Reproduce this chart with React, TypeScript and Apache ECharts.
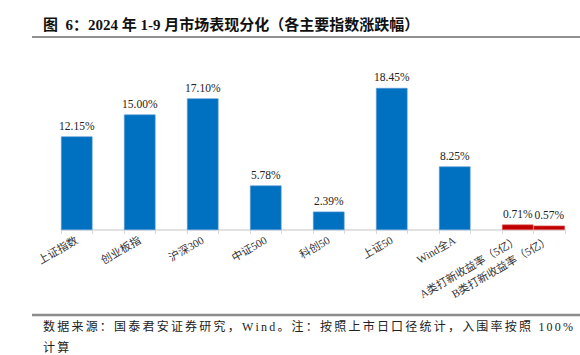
import React, { useEffect, useRef } from "react";
import * as echarts from "echarts";

const categories = [
  "上证指数",
  "创业板指",
  "沪深300",
  "中证500",
  "科创50",
  "上证50",
  "Wind全A",
  "A类打新收益率（5亿）",
  "B类打新收益率（5亿）",
];
const values = [12.15, 15.0, 17.1, 5.78, 2.39, 18.45, 8.25, 0.71, 0.57];
const isIpo = [false, false, false, false, false, false, false, true, true];

const titleText = "图  6：2024 年 1-9 月市场表现分化（各主要指数涨跌幅）";
const footLine1 = "数据来源：国泰君安证券研究，Wind。注：按照上市日口径统计，入围率按照 100%";
const footLine2 = "计算";

const FONT = "'Liberation Serif', 'Times New Roman', 'Noto Sans CJK SC', serif";
const BLUE = "#0070C0";
const RED = "#C00000";

// Build a justified rich-text string (uniform extra spacing per character)
function justified(text: string, font: string, targetWidth: number | null, spacing: number, prefix: string) {
  const canvas = document.createElement("canvas");
  const ctx = canvas.getContext("2d")!;
  ctx.font = font;
  const chars = Array.from(text);
  const widths = chars.map((c) => ctx.measureText(c).width);
  const total = widths.reduce((a, b) => a + b, 0);
  const sp = targetWidth != null ? (targetWidth - total) / (chars.length - 1) : spacing;
  const rich: any = {};
  let out = "";
  chars.forEach((c, i) => {
    const name = prefix + i;
    rich[name] = { width: widths[i] + (i < chars.length - 1 ? sp : 0), font, fill: "#222222" };
    out += `{${name}|${c}}`;
  });
  return { text: out, rich, sp };
}

export default function App() {
  const ref = useRef<HTMLDivElement>(null);
  useEffect(() => {
    if (!ref.current) return;
    const chart = echarts.init(ref.current, undefined, { renderer: "svg" });

    // Slot layout: index bars separated by an empty slot, IPO bars adjacent.
    const slotCount = 16;
    const slotIndex = (i: number) => (i < 7 ? i * 2 : 14 + (i - 7));
    const slotLabels: string[] = new Array(slotCount).fill("");
    const slotData: any[] = new Array(slotCount).fill("-");
    categories.forEach((c, i) => {
      const s = slotIndex(i);
      slotLabels[s] = c;
      slotData[s] = {
        value: values[i],
        itemStyle: {
          color: isIpo[i] ? RED : BLUE,
          borderColor: isIpo[i] ? "#e06666" : "#5b9bd5",
          borderWidth: 0.6,
        },
      };
    });

    const footFont = `12px ${FONT}`;
    const f1 = justified(footLine1, footFont, 530, 0, "a");
    const f2 = justified(footLine2, footFont, null, f1.sp, "b");

    chart.setOption({
      animation: false,
      backgroundColor: "#ffffff",
      grid: { left: 61, right: 15, top: 76, bottom: 125, containLabel: false },
      xAxis: {
        type: "category",
        data: slotLabels,
        boundaryGap: true,
        axisLine: { show: true, lineStyle: { color: "#d9d9d9", width: 1.5 } },
        axisTick: {
          show: true,
          interval: 0,
          length: 4,
          lineStyle: { color: "#d9d9d9" },
        },
        axisLabel: {
          interval: 0,
          rotate: 30,
          margin: 9,
          fontSize: 11,
          fontFamily: FONT,
          color: "#333333",
        },
      },
      yAxis: {
        type: "value",
        min: 0,
        max: 20,
        show: false,
        splitLine: { show: false },
      },
      series: [
        {
          type: "bar",
          data: slotData,
          barCategoryGap: "0%",
          barWidth: "100%",
          label: {
            show: true,
            position: "top",
            distance: 5,
            fontSize: 11.5,
            fontFamily: FONT,
            color: "#222222",
            formatter: (p: any) => Number(p.value).toFixed(2) + "%",
          },
        },
      ],
      graphic: [
        {
          type: "text",
          left: 43,
          top: 17,
          style: {
            text: titleText,
            font: `bold 15px ${FONT}`,
            fill: "#111111",
          },
        },
        {
          type: "line",
          shape: { x1: 32, y1: 37, x2: 580, y2: 37 },
          style: { stroke: "#222222", lineWidth: 1.2 },
        },
        {
          type: "line",
          shape: { x1: 32, y1: 315, x2: 580, y2: 315 },
          style: { stroke: "#8c8c8c", lineWidth: 2.5 },
        },
        {
          type: "text",
          left: 43,
          top: 321,
          style: {
            text: f1.text,
            rich: f1.rich,
            font: footFont,
            fill: "#222222",
          },
        },
        {
          type: "text",
          left: 43,
          top: 342,
          style: {
            text: f2.text,
            rich: f2.rich,
            font: footFont,
            fill: "#222222",
          },
        },
      ],
    });
    return () => chart.dispose();
  }, []);
  return (
    <div
      ref={ref}
      style={{ position: "fixed", left: 0, top: 0, width: 580, height: 355, background: "#fff" }}
    />
  );
}
